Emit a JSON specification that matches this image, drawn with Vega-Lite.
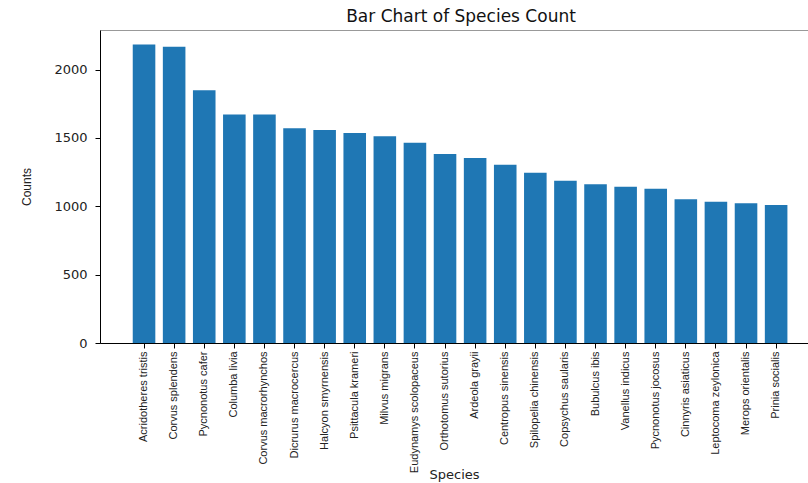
{
  "$schema": "https://vega.github.io/schema/vega-lite/v6.json",
  "width": 708,
  "height": 313,
  "autosize": {"type": "none"},
  "padding": {"left": 100, "top": 30, "right": 0, "bottom": 140},
  "background": "white",
  "title": {"text": "Bar Chart of Species Count", "font": "DejaVu Sans", "fontSize": 17, "fontWeight": "normal", "color": "#111", "offset": 4, "dx": 7},
  "data": {"values": [
    {"species": "Acridotheres tristis", "count": 2183},
    {"species": "Corvus splendens", "count": 2168},
    {"species": "Pycnonotus cafer", "count": 1849},
    {"species": "Columba livia", "count": 1672},
    {"species": "Corvus macrorhynchos", "count": 1671},
    {"species": "Dicrurus macrocercus", "count": 1572},
    {"species": "Halcyon smyrnensis", "count": 1559},
    {"species": "Psittacula krameri", "count": 1537},
    {"species": "Milvus migrans", "count": 1513},
    {"species": "Eudynamys scolopaceus", "count": 1465},
    {"species": "Orthotomus sutorius", "count": 1382},
    {"species": "Ardeola grayii", "count": 1353},
    {"species": "Centropus sinensis", "count": 1304},
    {"species": "Spilopelia chinensis", "count": 1245},
    {"species": "Copsychus saularis", "count": 1187},
    {"species": "Bubulcus ibis", "count": 1161},
    {"species": "Vanellus indicus", "count": 1143},
    {"species": "Pycnonotus jocosus", "count": 1129},
    {"species": "Cinnyris asiaticus", "count": 1051},
    {"species": "Leptocoma zeylonica", "count": 1034},
    {"species": "Merops orientalis", "count": 1022},
    {"species": "Prinia socialis", "count": 1010}
  ]},
  "mark": {"type": "bar", "color": "#1f77b4"},
  "encoding": {
    "x": {
      "field": "species", "type": "nominal", "sort": null,
      "scale": {"paddingInner": 0.25, "paddingOuter": 0.886, "align": 0.614},
      "axis": {
        "title": "Species", "titleFont": "DejaVu Sans", "titleFontSize": 13, "titleFontWeight": "normal", "titleColor": "#222",
        "titleY": 131, "titleBaseline": "middle",
        "labelAngle": -90, "labelFont": "Liberation Sans Narrow, Liberation Sans", "labelFontSize": 11, "labelColor": "#222",
        "labelPadding": 3, "tickSize": 5, "tickColor": "#000", "domainColor": "#000", "labelOverlap": false
      }
    },
    "y": {
      "field": "count", "type": "quantitative",
      "scale": {"domain": [0, 2290], "nice": false, "zero": true},
      "axis": {
        "values": [0, 500, 1000, 1500, 2000], "grid": false, "format": "d",
        "title": "Counts", "titleFont": "Liberation Sans Narrow, Liberation Sans", "titleFontSize": 12, "titleFontWeight": "normal", "titleColor": "#222",
        "titlePadding": 20,
        "labelFont": "DejaVu Sans", "labelFontSize": 13, "labelColor": "#222", "labelPadding": 8,
        "tickSize": 5, "tickColor": "#000", "domainColor": "#000"
      }
    }
  },
  "config": {"view": {"stroke": "#999"}}
}
